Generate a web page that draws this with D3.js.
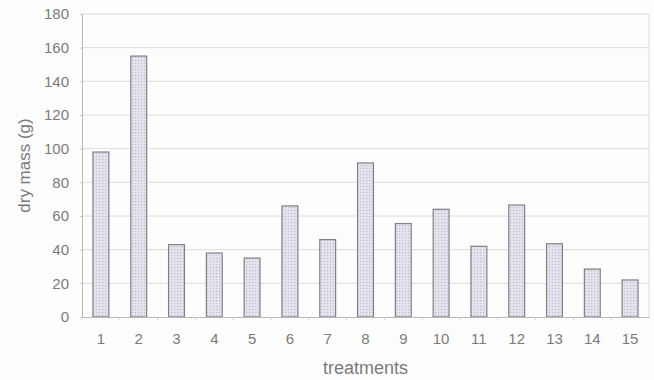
<!DOCTYPE html>
<html><head><meta charset="utf-8">
<script src="https://cdn.jsdelivr.net/npm/d3@7"></script>
<style>body{margin:0;background:#fdfdfd;} svg{display:block;}</style>
</head><body>
<svg id="chart" width="654" height="380"></svg>
<script>
const categories = ["1","2","3","4","5","6","7","8","9","10","11","12","13","14","15"];
const values = [98,155,43,38,35,66,46,91.5,55.5,64,42,66.5,43.5,28.5,22];
const yTicks = [0,20,40,60,80,100,120,140,160,180];
const xTitle = "treatments";
const yTitle = "dry mass (g)";

const svg = d3.select("#chart");
const m = {left:82, right:5, top:14, bottom:63};
const W = 654, H = 380;
const x = d3.scaleBand().domain(categories).range([m.left, W - m.right]).paddingInner(0.58).paddingOuter(0.29);
const y = d3.scaleLinear().domain([0,180]).range([H - m.bottom, m.top]);
const font = "Liberation Sans, Arial, sans-serif";
const txt = "#7a7a7a";

const defs = svg.append("defs");
const pat = defs.append("pattern").attr("id","dots").attr("width",3).attr("height",3).attr("patternUnits","userSpaceOnUse");
pat.append("rect").attr("width",3).attr("height",3).attr("fill","#e4e4ef");
pat.append("rect").attr("width",1.2).attr("height",1.2).attr("fill","#bcbccf");

// gridlines
svg.append("g").selectAll("line").data(yTicks.filter(d=>d>0)).join("line")
  .attr("x1", m.left).attr("x2", W - m.right)
  .attr("y1", d=>y(d)).attr("y2", d=>y(d))
  .attr("stroke","#dcdcdc").attr("stroke-width",1);
// right border
svg.append("line").attr("x1",W-m.right).attr("x2",W-m.right).attr("y1",y(180)).attr("y2",y(0)).attr("stroke","#dcdcdc");

// y axis
const yAxis = svg.append("g").attr("transform",`translate(${m.left},0)`)
  .call(d3.axisLeft(y).tickValues(yTicks).tickSize(2).tickPadding(11));
yAxis.select(".domain").attr("stroke","#b8b8b8");
yAxis.selectAll(".tick line").attr("stroke","#c8c8c8");
yAxis.selectAll("text").attr("fill",txt).style("font-family",font).style("font-size","15px");

// bars
svg.append("g").selectAll("rect").data(values).join("rect")
  .attr("x",(d,i)=>x(categories[i])).attr("width",x.bandwidth())
  .attr("y",d=>y(d)).attr("height",d=>y(0)-y(d))
  .attr("fill","url(#dots)").attr("stroke","#808088").attr("stroke-width",1.2);

// x axis
const xAxis = svg.append("g").attr("transform",`translate(0,${y(0)})`)
  .call(d3.axisBottom(x).tickSize(0).tickPadding(16));
xAxis.select(".domain").attr("stroke","#b8b8b8");
xAxis.selectAll("text").attr("fill",txt).style("font-family",font).style("font-size","15px");
// small tick marks between categories
const gap = (x.step() - x.bandwidth())/2;
svg.append("g").selectAll("line").data(categories).join("line")
  .attr("x1",d=>x(d) - gap).attr("x2",d=>x(d) - gap)
  .attr("y1",y(0)).attr("y2",y(0)+3).attr("stroke","#cfcfcf");

// titles
svg.append("text").attr("x",(m.left + W - m.right)/2).attr("y",374).attr("text-anchor","middle")
  .attr("fill",txt).style("font-family",font).style("font-size","18px").text(xTitle);
svg.append("text").attr("transform",`translate(30,${(y(0)+y(180))/2}) rotate(-90)`).attr("text-anchor","middle")
  .attr("fill",txt).style("font-family",font).style("font-size","17px").text(yTitle);
</script>
</body></html>
